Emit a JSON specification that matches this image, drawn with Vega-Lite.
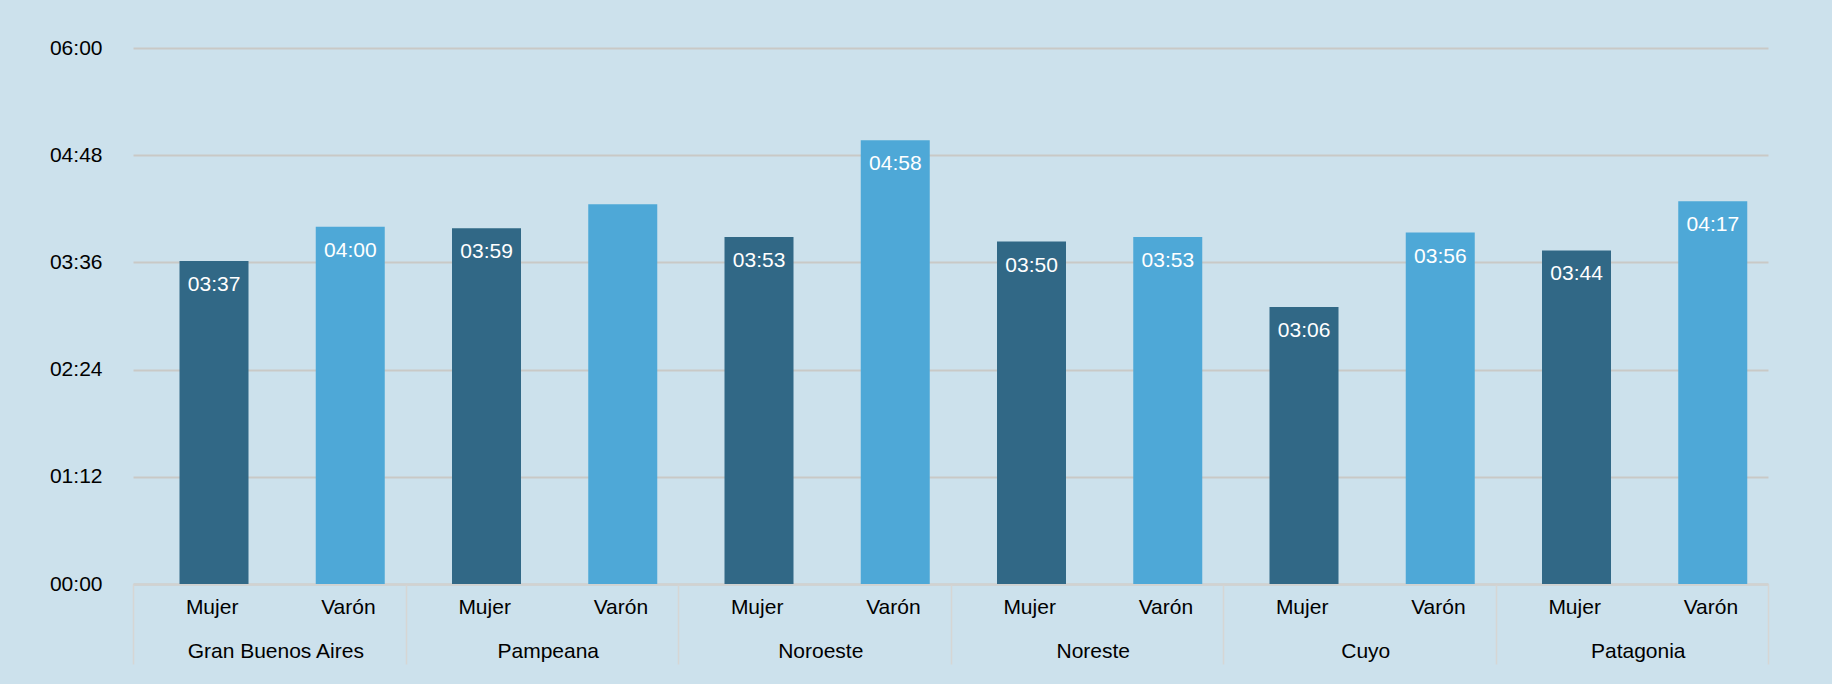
{
  "$schema": "https://vega.github.io/schema/vega-lite/v6.json",
  "width": 1635,
  "height": 536,
  "autosize": {"type": "none"},
  "padding": {"left": 133, "top": 48, "right": 64, "bottom": 100},
  "background": "#cce1ec",
  "config": {"font": "Liberation Sans", "view": {"stroke": null}},
  "data": {
    "values": [
      {"region": "Gran Buenos Aires", "sex": "Mujer", "cat": "Gran Buenos Aires|Mujer", "minutes": 217, "label": "03:37"},
      {"region": "Gran Buenos Aires", "sex": "Varón", "cat": "Gran Buenos Aires|Varón", "minutes": 240, "label": "04:00"},
      {"region": "Pampeana", "sex": "Mujer", "cat": "Pampeana|Mujer", "minutes": 239, "label": "03:59"},
      {"region": "Pampeana", "sex": "Varón", "cat": "Pampeana|Varón", "minutes": 255, "label": ""},
      {"region": "Noroeste", "sex": "Mujer", "cat": "Noroeste|Mujer", "minutes": 233, "label": "03:53"},
      {"region": "Noroeste", "sex": "Varón", "cat": "Noroeste|Varón", "minutes": 298, "label": "04:58"},
      {"region": "Noreste", "sex": "Mujer", "cat": "Noreste|Mujer", "minutes": 230, "label": "03:50"},
      {"region": "Noreste", "sex": "Varón", "cat": "Noreste|Varón", "minutes": 233, "label": "03:53"},
      {"region": "Cuyo", "sex": "Mujer", "cat": "Cuyo|Mujer", "minutes": 186, "label": "03:06"},
      {"region": "Cuyo", "sex": "Varón", "cat": "Cuyo|Varón", "minutes": 236, "label": "03:56"},
      {"region": "Patagonia", "sex": "Mujer", "cat": "Patagonia|Mujer", "minutes": 224, "label": "03:44"},
      {"region": "Patagonia", "sex": "Varón", "cat": "Patagonia|Varón", "minutes": 257, "label": "04:17"}
    ]
  },
  "layer": [
    {
      "layer": [
        {
          "mark": {"type": "bar", "width": 69},
          "encoding": {
            "x": {
              "field": "cat", "type": "nominal", "sort": null,
              "scale": {"paddingInner": 0, "paddingOuter": 0},
              "axis": {
                "title": null, "orient": "bottom",
                "labelExpr": "split(datum.label, '|')[1]",
                "labelAngle": 0, "ticks": false, "domain": false, "grid": false,
                "labelFontSize": 21, "labelColor": "#000000", "labelPadding": 12, "labelOffset": 11
              }
            },
            "xOffset": {"value": 81},
            "y": {
              "field": "minutes", "type": "quantitative",
              "scale": {"domain": [0, 360], "nice": false},
              "axis": {
                "title": null,
                "values": [0, 72, 144, 216, 288, 360],
                "labelExpr": "(floor(datum.value/60) < 10 ? '0' : '') + floor(datum.value/60) + ':' + (datum.value % 60 < 10 ? '0' : '') + (datum.value % 60)",
                "grid": true, "gridColor": "#c9c9c6", "gridWidth": 2,
                "ticks": false, "domain": false,
                "labelPadding": 31, "labelFontSize": 21, "labelColor": "#000000"
              }
            },
            "color": {
              "field": "sex", "type": "nominal",
              "scale": {"domain": ["Mujer", "Varón"], "range": ["#316886", "#4ea8d7"]},
              "legend": null
            }
          }
        },
        {
          "mark": {"type": "text", "baseline": "middle", "dy": 24, "dx": 13, "color": "#ffffff", "fontSize": 21},
          "encoding": {
            "x": {"field": "cat", "type": "nominal", "sort": null},
            "y": {"field": "minutes", "type": "quantitative"},
            "text": {"field": "label"}
          }
        }
      ]
    },
    {
      "mark": {"type": "rule", "opacity": 0},
      "encoding": {
        "x": {
          "field": "region", "type": "nominal", "sort": null,
          "scale": {"paddingInner": 0, "paddingOuter": 0},
          "axis": {
            "title": null, "orient": "bottom", "labelAngle": 0, "grid": false,
            "domain": true, "domainColor": "#d2d2d0", "domainWidth": 2,
            "ticks": true, "tickBand": "extent", "tickSize": 80, "tickColor": "#d6d6d4", "tickWidth": 1.5,
            "labelPadding": -24, "labelFontSize": 21, "labelColor": "#000000", "labelOffset": 6
          }
        }
      }
    }
  ],
  "resolve": {"scale": {"x": "independent"}}
}
